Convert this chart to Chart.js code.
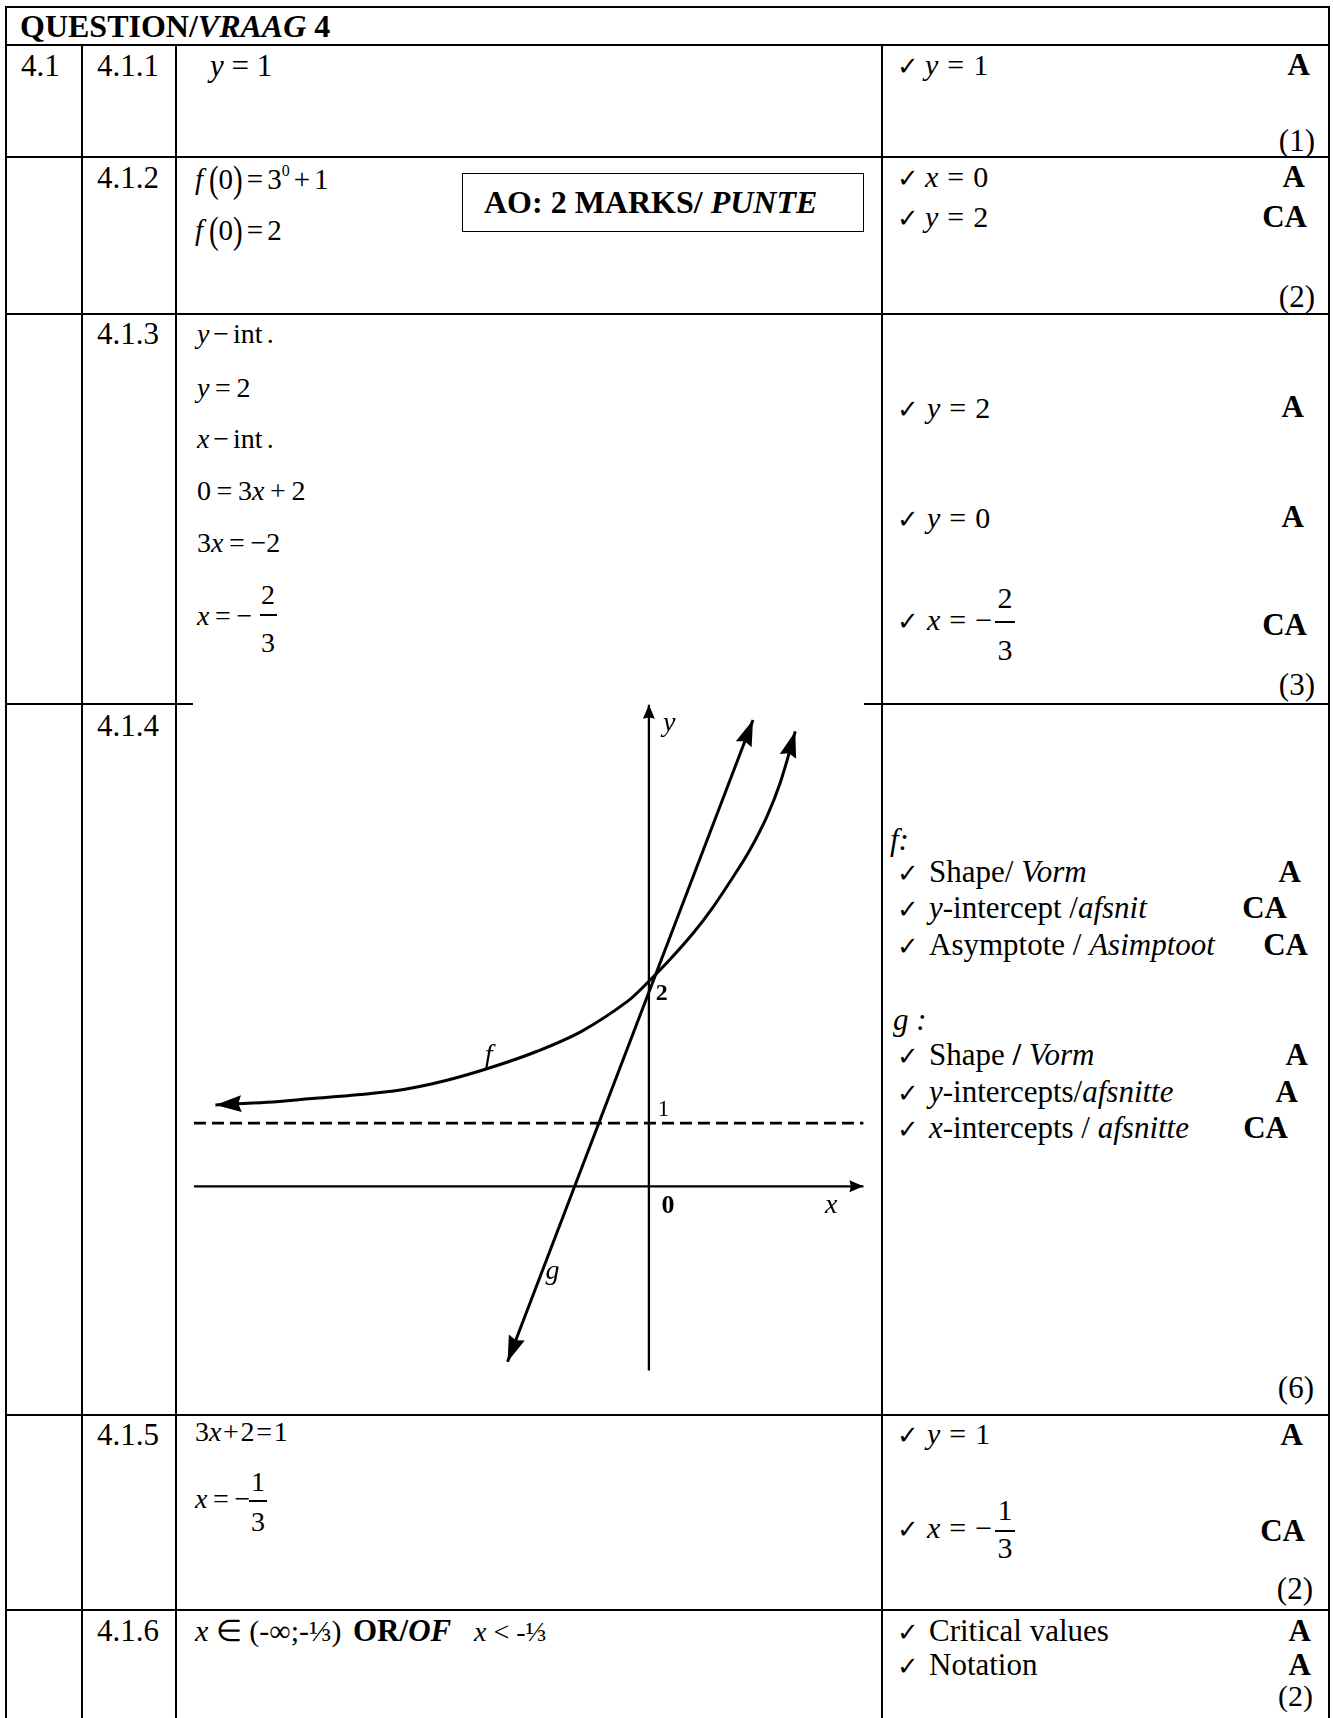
<!DOCTYPE html>
<html>
<head>
<meta charset="utf-8">
<script src="https://cdn.jsdelivr.net/npm/chart.js@4/dist/chart.umd.min.js"></script>
<style>
html,body{margin:0;padding:0;background:#fff;}
#page{position:relative;width:1333px;height:1718px;overflow:hidden;background:#fff;}
.ln{position:absolute;background:#000;}
.t{position:absolute;line-height:0;white-space:nowrap;font-family:"Liberation Serif","Times New Roman",serif;color:#000;}
.ck{font-family:"DejaVu Sans",sans-serif;}
.o{margin:0 .25em;}
.o2{margin:0 .1em;}
.o3{margin:0 .2em;}
.o4{margin:0 .3em;}
.o5{margin:0 .06em;}
.o6{margin:0 .14em;}
.p{display:inline-block;transform:scale(1,1.3);}
.sp{font-size:.55em;position:relative;top:-.85em;}
#box{position:absolute;left:462px;top:173px;width:400px;height:57px;border:1.5px solid #000;}
#g{position:absolute;left:193px;top:701px;background:#fff;}
</style>
</head>
<body>
<div id="page">
  <div id="box"></div>
  <canvas id="g" width="671" height="673"></canvas>
</div>
<script>
// ---------- graph data (in the sketch's own units) ----------
const fX = [-6.87,-6.05,-5.34,-4.62,-3.91,-3.20,-2.48,-1.77,-1.06,-0.34,0,0.33,0.70,1.02,1.34,1.60,1.87,2.08,2.32];
const fY = [1.29,1.33,1.39,1.45,1.53,1.68,1.89,2.14,2.46,2.93,3.25,3.59,4.01,4.43,4.91,5.33,5.86,6.39,7.21];
const gX = [-2.24,1.65];
const gY = [-2.78,7.39];
const asymptoteValue = [1,1];
const xAxisSpan = [-7.21,3.40];
const yAxisSpan = [-2.92,7.63];
const tickLabels = ['0','1','2'];
const axisNames = ['x','y'];
const seriesNames = ['f','g'];

const page = document.getElementById('page');

// ---------- table lines ----------
function L(x,y,w,h){const d=document.createElement('div');d.className='ln';d.style.left=x+'px';d.style.top=y+'px';d.style.width=w+'px';d.style.height=h+'px';page.appendChild(d);}
[6,43.5,155.5,312.5,703,1414,1609].forEach(y=>L(5,y,1325,2));
L(5,6,2,1712); L(1328,6,2,1712);
[81,175,880.5].forEach(x=>L(x,44,2.2,1674));
page.appendChild(document.getElementById('g'));

// ---------- text ----------
function T(html,x,base,size,opt){
  opt=opt||{};
  const d=document.createElement('div');d.className='t'+(opt.cls?' '+opt.cls:'');
  d.innerHTML=html;d.style.fontSize=size+'px';
  const k=opt.cls==='ck'?0.346:0.3375;
  d.style.top=(base-k*size)+'px';
  if(opt.right){d.style.right=(1333-x)+'px';}
  else if(opt.center){d.style.left=x+'px';d.style.transform='translateX(-50%)';}
  else d.style.left=x+'px';
  if(opt.bold)d.style.fontWeight='bold';
  page.appendChild(d);return d;
}
function CK(base){T('✓',897,base,26,{cls:'ck'});}
function FR(num,den,cx,barY,w,numBase,denBase,size){
  T(num,cx,numBase,size,{center:true});
  T(den,cx,denBase,size,{center:true});
  L(cx-w/2,barY-0.75,w,1.5);
}
const R=true;
// header
T('<b>QUESTION/<i>VRAAG</i> 4</b>',20,37,32);
// labels
[['4.1',21,76],['4.1.1',97,76],['4.1.2',97,188],['4.1.3',97,344],['4.1.4',97,736],['4.1.5',97,1445],['4.1.6',97,1641]]
 .forEach(a=>T(a[0],a[1],a[2],31));

// 4.1.1
T('<i>y</i><span class="o">=</span>1',210,76,31);
CK(75); T('<i>y</i><span class="o4">=</span>1',925,75,30);
T('A',1310,75,31,{right:R,bold:true});
T('(1)',1315,151,31,{right:R});

// 4.1.2
T('<i>f</i>&thinsp;<span class="p">(</span>0<span class="p">)</span><span class="o6">=</span>3<span class="sp">0</span><span class="o6">+</span>1',195,189,29);
T('<i>f</i>&thinsp;<span class="p">(</span>0<span class="p">)</span><span class="o6">=</span>2',195,240,29);
T('<b>AO: 2 MARKS/ <i>PUNTE</i></b>',484,213,32);
CK(187); T('<i>x</i><span class="o4">=</span>0',925,187,30);
T('A',1305,187,31,{right:R,bold:true});
CK(227); T('<i>y</i><span class="o4">=</span>2',925,227,30);
T('CA',1307,227,31,{right:R,bold:true});
T('(2)',1315,307,31,{right:R});

// 4.1.3
T('<i>y</i><span class="o6">−</span>int<span style="margin-left:.15em">.</span>',197,343,28);
T('<i>y</i><span class="o3">=</span>2',197,397,28);
T('<i>x</i><span class="o6">−</span>int<span style="margin-left:.15em">.</span>',197,448,28);
T('0<span class="o3">=</span>3<i>x</i><span class="o3">+</span>2',197,500,28);
T('3<i>x</i><span class="o3">=</span>−2',197,552,28);
T('<i>x</i><span class="o3">=</span>−',197,625,28);
FR('2','3',268,615,17,604,652,28);
CK(418); T('<i>y</i><span class="o4">=</span>2',927,418,30);
T('A',1304,417,31,{right:R,bold:true});
CK(528); T('<i>y</i><span class="o4">=</span>0',927,528,30);
T('A',1304,527,31,{right:R,bold:true});
CK(630); T('<i>x</i><span class="o4">=</span>−',927,630,30);
FR('2','3',1005,622,20,608,660,30);
T('CA',1307,635,31,{right:R,bold:true});
T('(3)',1315,695,31,{right:R});

// 4.1.4 right column
T('<i>f:</i>',890,850,31);
CK(882); T('Shape/ <i>Vorm</i>',929,882,31); T('A',1301,882,31,{right:R,bold:true});
CK(918); T('<i>y</i>-intercept /<i>afsnit</i>',929,918,31); T('CA',1287,918,31,{right:R,bold:true});
CK(955); T('Asymptote / <i>Asimptoot</i>',929,955,31); T('CA',1308,955,31,{right:R,bold:true});
T('<i>g :</i>',893,1030,31);
CK(1065); T('Shape <b>/</b> <i>Vorm</i>',929,1065,31); T('A',1308,1065,31,{right:R,bold:true});
CK(1102); T('<i>y</i>-intercepts/<i>afsnitte</i>',929,1102,31); T('A',1298,1102,31,{right:R,bold:true});
CK(1138); T('<i>x</i>-intercepts / <i>afsnitte</i>',929,1138,31); T('CA',1288,1138,31,{right:R,bold:true});
T('(6)',1314,1398,31,{right:R});

// 4.1.5
T('3<i>x</i><span class="o5">+</span>2<span class="o5">=</span>1',195,1441,28);
T('<i>x</i><span class="o3">=</span>−',195,1508,28);
FR('1','3',258,1501,18,1491,1531,28);
CK(1444); T('<i>y</i><span class="o4">=</span>1',927,1444,30);
T('A',1303,1445,31,{right:R,bold:true});
CK(1538); T('<i>x</i><span class="o4">=</span>−',927,1538,30);
FR('1','3',1005,1531,20,1520,1558,30);
T('CA',1305,1541,31,{right:R,bold:true});
T('(2)',1313,1599,31,{right:R});

// 4.1.6
T('<i>x</i> ∈ (-∞;-⅓)',195,1641,30);
T('<b>OR/<i>OF</i></b>',353,1641,31);
T('<i>x</i> &lt; -⅓',474,1641,28);
CK(1641); T('Critical values',929,1641,31); T('A',1311,1641,31,{right:R,bold:true});
CK(1675); T('Notation',929,1675,31); T('A',1311,1675,31,{right:R,bold:true});
T('(2)',1313,1706,30,{right:R});

// ---------- chart ----------
const pts=(xs,ys)=>xs.map((x,i)=>({x:x,y:ys[i]}));
const arrowPlugin={
  id:'arrows',
  afterDatasetsDraw(chart){
    const ctx=chart.ctx;
    chart.data.datasets.forEach((ds,i)=>{
      const el=chart.getDatasetMeta(i).data; if(!el.length)return;
      const draw=(tip,ref,a)=>{
        let dx=tip.x-ref.x,dy=tip.y-ref.y;const m=Math.hypot(dx,dy)||1;dx/=m;dy/=m;
        const bx=tip.x-dx*a.len,by=tip.y-dy*a.len,nx=-dy,ny=dx;
        ctx.save();ctx.fillStyle='#000';ctx.beginPath();
        ctx.moveTo(tip.x,tip.y);
        ctx.lineTo(bx+nx*a.w/2,by+ny*a.w/2);
        ctx.lineTo(bx+dx*a.len*a.notch,by+dy*a.len*a.notch);
        ctx.lineTo(bx-nx*a.w/2,by-ny*a.w/2);
        ctx.closePath();ctx.fill();ctx.restore();
      };
      if(ds.arrowEnd){
        const tip=el[el.length-1];let ref=el[el.length-2];
        if(tip.cp1x!==undefined&&Math.hypot(tip.cp1x-tip.x,tip.cp1y-tip.y)>2)ref={x:tip.cp1x,y:tip.cp1y};
        draw(tip,ref,ds.arrowEnd);
      }
      if(ds.arrowStart){
        const tip=el[0];let ref=el[1];
        if(tip.cp2x!==undefined&&Math.hypot(tip.cp2x-tip.x,tip.cp2y-tip.y)>2)ref={x:tip.cp2x,y:tip.cp2y};
        draw(tip,ref,ds.arrowStart);
      }
    });
  }
};
const labelPlugin={
  id:'sketchLabels',
  afterDraw(chart,args,opts){
    const ctx=chart.ctx,xs=chart.scales.x,ys=chart.scales.y;
    ctx.save();ctx.fillStyle='#000';ctx.textBaseline='alphabetic';ctx.textAlign='left';
    opts.items.forEach(it=>{
      ctx.font=(it.italic?'italic ':'')+(it.bold?'bold ':'')+it.size+'px "Liberation Serif", serif';
      ctx.fillText(it.text,xs.getPixelForValue(it.x),ys.getPixelForValue(it.y));
    });
    ctx.restore();
  }
};
const bigArrow={len:26,w:17,notch:0.12};
const smallArrow={len:14,w:12,notch:0.1};
new Chart(document.getElementById('g'),{
  type:'scatter',
  data:{datasets:[
    {label:'x-axis',data:pts(xAxisSpan,[0,0]),showLine:true,borderColor:'#000',borderWidth:2.3,pointRadius:0,arrowEnd:smallArrow},
    {label:'y-axis',data:pts([0,0],yAxisSpan),showLine:true,borderColor:'#000',borderWidth:2.3,pointRadius:0,arrowEnd:smallArrow},
    {label:'asymptote',data:pts(xAxisSpan,asymptoteValue),showLine:true,borderColor:'#000',borderWidth:2.8,borderDash:[12,6],pointRadius:0},
    {label:seriesNames[1],data:pts(gX,gY),showLine:true,borderColor:'#000',borderWidth:3,pointRadius:0,arrowStart:bigArrow,arrowEnd:bigArrow},
    {label:seriesNames[0],data:pts(fX,fY),showLine:true,borderColor:'#000',borderWidth:3,pointRadius:0,tension:0.35,arrowStart:bigArrow,arrowEnd:bigArrow}
  ]},
  options:{
    responsive:false,animation:false,devicePixelRatio:1,events:[],
    layout:{padding:0},
    scales:{
      x:{type:'linear',min:-7.225,max:3.409,display:false},
      y:{type:'linear',min:-2.975,max:7.691,display:false}
    },
    plugins:{
      legend:{display:false},tooltip:{enabled:false},
      sketchLabels:{items:[
        {text:axisNames[1],x:0.225,y:7.21,size:28,italic:true},
        {text:tickLabels[2],x:0.11,y:2.96,size:24,bold:true},
        {text:tickLabels[1],x:0.14,y:1.11,size:23},
        {text:tickLabels[0],x:0.2,y:-0.43,size:26,bold:true},
        {text:axisNames[0],x:2.79,y:-0.43,size:28,italic:true},
        {text:seriesNames[0],x:-2.60,y:1.96,size:28,italic:true},
        {text:seriesNames[1],x:-1.64,y:-1.47,size:28,italic:true}
      ]}
    }
  },
  plugins:[arrowPlugin,labelPlugin]
});
</script>
</body>
</html>
